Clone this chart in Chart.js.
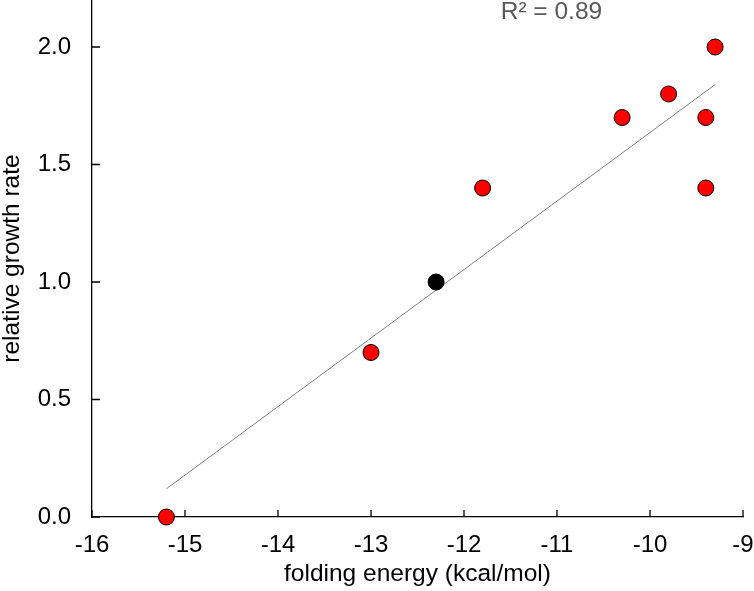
<!DOCTYPE html>
<html><head><meta charset="utf-8">
<script src="https://cdn.jsdelivr.net/npm/chart.js@4/dist/chart.umd.min.js"></script>
<style>html,body{margin:0;padding:0;background:#fff}#wrap{width:754px;height:591px}</style>
</head><body><div id="wrap"><canvas id="c" width="754" height="591"></canvas></div>
<script>
const energy = [-15.2, -13.0, -11.8, -10.3, -9.8, -9.4, -9.4, -9.3];
const growth = [0.0, 0.7, 1.4, 1.7, 1.8, 1.7, 1.4, 2.0];
const refEnergy = [-12.3];
const refGrowth = [1.0];
const trendEnergy = [-15.2, -9.3];
const trendGrowth = [0.12, 1.84];
const xTicks = [-16, -15, -14, -13, -12, -11, -10, -9];
const yTicks = [0.0, 0.5, 1.0, 1.5, 2.0];
const r2Label = 'R² = 0.89';
const r2Pos = {x: -11.06, y: 2.15};

const FONT = "'Liberation Sans', Arial, sans-serif";

const inwardTicks = {
  id: 'inwardTicks',
  afterDatasetsDraw(chart) {
    const {ctx, scales: {x, y}} = chart;
    ctx.save();
    ctx.strokeStyle = '#000';
    ctx.lineWidth = 1.3;
    ctx.beginPath();
    x.ticks.forEach(t => {
      const px = x.getPixelForValue(t.value);
      ctx.moveTo(px, x.top);
      ctx.lineTo(px, x.top - 7);
    });
    y.ticks.forEach(t => {
      const py = y.getPixelForValue(t.value);
      ctx.moveTo(y.right, py);
      ctx.lineTo(y.right + 8, py);
    });
    ctx.stroke();
    ctx.fillStyle = '#595959';
    ctx.font = '24.5px ' + FONT;
    ctx.textAlign = 'center';
    ctx.textBaseline = 'middle';
    ctx.fillText(r2Label, x.getPixelForValue(r2Pos.x), y.getPixelForValue(r2Pos.y));
    ctx.restore();
  }
};

new Chart(document.getElementById('c'), {
  type: 'scatter',
  data: {
    datasets: [
      {
        data: refEnergy.map((v, i) => ({x: v, y: refGrowth[i]})),
        backgroundColor: '#000', borderColor: '#000', borderWidth: 1,
        pointRadius: 8, order: 0, clip: false
      },
      {
        data: energy.map((v, i) => ({x: v, y: growth[i]})),
        backgroundColor: '#ff0000', borderColor: '#000', borderWidth: 1,
        pointRadius: 8, order: 1, clip: false
      },
      {
        type: 'line',
        data: trendEnergy.map((v, i) => ({x: v, y: trendGrowth[i]})),
        borderColor: '#808080', borderWidth: 1, pointRadius: 0,
        fill: false, order: 2, clip: false
      }
    ]
  },
  options: {
    responsive: false,
    animation: false,
    devicePixelRatio: 1,
    layout: {autoPadding: false, padding: {top: 0, right: 11, left: 0, bottom: 0}},
    plugins: {legend: {display: false}, tooltip: {enabled: false}},
    scales: {
      x: {
        type: 'linear', min: -16, max: -9,
        afterBuildTicks: s => { s.ticks = xTicks.map(v => ({value: v})); },
        afterFit: s => { s.height = 74; s.paddingLeft = 0; s.paddingRight = 0; },
        grid: {display: false, drawTicks: false},
        border: {display: true, color: '#000', width: 1.3},
        ticks: {color: '#000', font: {family: FONT, size: 24}, padding: 14,
          callback: v => String(v)},
        title: {display: true, text: 'folding energy (kcal/mol)', color: '#000',
          font: {family: FONT, size: 24.5, lineHeight: 1.2}, padding: {top: 0, bottom: 2}}
      },
      y: {
        type: 'linear', min: 0, max: 2.2,
        afterBuildTicks: s => { s.ticks = yTicks.map(v => ({value: v})); },
        afterFit: s => { s.width = 92; s.paddingTop = 0; s.paddingBottom = 0; },
        grid: {display: false, drawTicks: false},
        border: {display: true, color: '#000', width: 1.3},
        ticks: {color: '#000', font: {family: FONT, size: 24}, padding: 21,
          callback: v => Number(v).toFixed(1)},
        title: {display: true, text: 'relative growth rate', color: '#000',
          font: {family: FONT, size: 24.5, lineHeight: 1.0}, padding: {top: 0, bottom: 0}}
      }
    }
  },
  plugins: [inwardTicks]
});
</script></body></html>
